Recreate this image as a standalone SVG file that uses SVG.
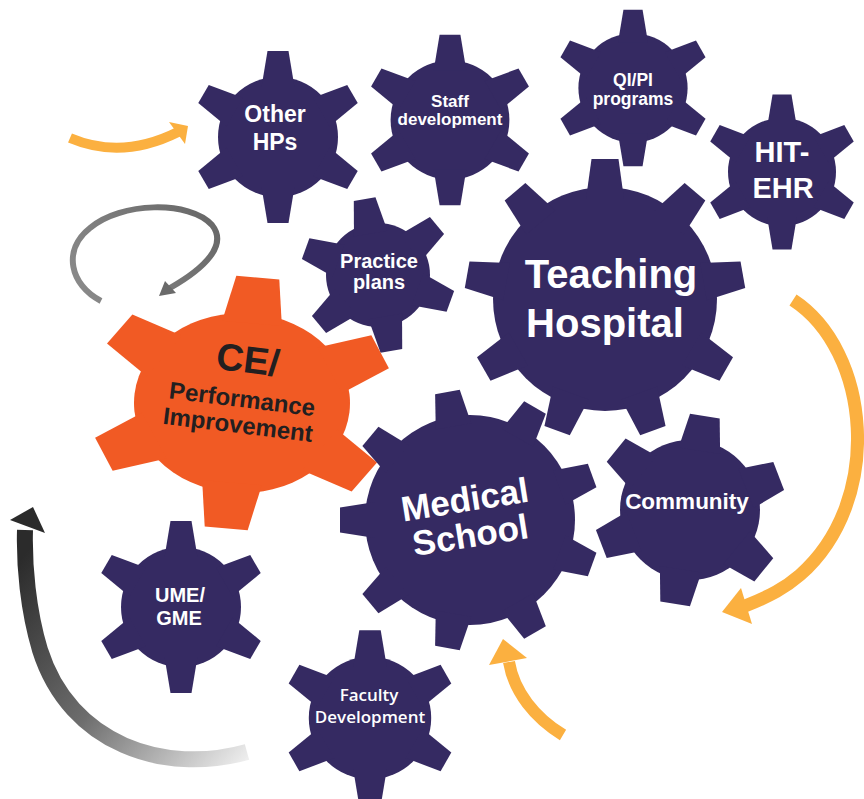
<svg xmlns="http://www.w3.org/2000/svg" xmlns:xlink="http://www.w3.org/1999/xlink" width="864" height="799" viewBox="0 0 864 799">
  <style>
    .gear { fill: #352a62; }
    .gear-ce { fill: #f15a24; }
    .lbl { fill: #ffffff; font-family: "Liberation Sans", Arial, sans-serif; font-weight: bold; text-anchor: middle; }
    .lbl-dark { fill: #231f20; font-family: "Liberation Sans", Arial, sans-serif; font-weight: bold; text-anchor: middle; }
    .lbl-soft { fill: #ffffff; font-family: "Open Sans", "Noto Sans", sans-serif; font-weight: 600; text-anchor: middle; }
    .amber { fill: none; stroke: #fbb040; }
    .amber-head { fill: #fbb040; }
  </style>
  <defs>
    <!-- small six-tooth gear: body r60, tips at r86 -->
    <polygon id="ts" points="-16.5,-50 -10.5,-86 10.5,-86 16.5,-50"/>
    <g id="g6">
      <circle r="60"/>
      <use href="#ts"/>
      <use href="#ts" transform="rotate(60)"/>
      <use href="#ts" transform="rotate(120)"/>
      <use href="#ts" transform="rotate(180)"/>
      <use href="#ts" transform="rotate(240)"/>
      <use href="#ts" transform="rotate(300)"/>
    </g>
    <polygon id="tc" points="-21,-60 -15,-95 15,-95 21,-60"/>
    <polygon id="tp" points="-17,-42 -11,-77 11,-77 17,-42"/>
    <polygon id="th" points="-19,-100 -13.5,-140 13.5,-140 19,-100"/>
    <polygon id="tm" points="-18,-95 -12.5,-130 12.5,-130 18,-95"/>
    <polygon id="te" points="-25,-80 -18,-126 18,-126 25,-80"/>
    <linearGradient id="fadeDark" gradientUnits="userSpaceOnUse" x1="20" y1="560" x2="250" y2="760">
      <stop offset="0" stop-color="#2b2b2b"/>
      <stop offset="0.5" stop-color="#6d6d6d"/>
      <stop offset="1" stop-color="#f0f0f0"/>
    </linearGradient>
    <linearGradient id="fadeGrey" gradientUnits="userSpaceOnUse" x1="80" y1="300" x2="220" y2="210">
      <stop offset="0" stop-color="#8a8a8a"/>
      <stop offset="1" stop-color="#666666"/>
    </linearGradient>
  </defs>

  <g id="connectors">
    <!-- amber arrow, top left -->
    <path class="amber" stroke-width="10" d="M70,138 Q122,160 178,132"/>
    <polygon class="amber-head" points="169,122 188,126 185,144"/>
    <!-- grey loop arrow -->
    <path fill="none" stroke="url(#fadeGrey)" stroke-width="6" d="M101,301 C70,285 62,250 90,228 C120,202 190,200 212,225 C228,245 205,268 170,288"/>
    <polygon fill="#6a6a6a" points="159,296 165,281 176,293"/>
    <!-- amber arrow sweeping down the right side -->
    <path class="amber" stroke-width="13" d="M793,300 C870,350 885,500 800,575 C785,588 770,596 745,606"/>
    <polygon class="amber-head" points="722,612 741,588 752,624"/>
    <!-- amber arrow, bottom -->
    <path class="amber" stroke-width="12" d="M563,735 C535,718 514,692 509,662"/>
    <polygon class="amber-head" points="503,639 489,665 527,658"/>
    <!-- fading dark arrow, lower left -->
    <path fill="none" stroke="url(#fadeDark)" stroke-width="16" d="M247,752 C165,775 70,745 40,650 C28,610 24,565 25,530"/>
    <polygon fill="#2b2b2b" points="10,520 33,507 45,533"/>
  </g>

  <g id="other-hps">
    <use href="#g6" class="gear" transform="translate(278,137)"/>
    <text class="lbl" font-size="23" x="275" y="122">Other</text>
    <text class="lbl" font-size="23" x="275" y="150">HPs</text>
  </g>

  <g id="staff-development">
    <use href="#g6" class="gear" transform="translate(450,120) scale(0.99)"/>
    <text class="lbl" font-size="17" x="450" y="107">Staff</text>
    <text class="lbl" font-size="17" x="450" y="125">development</text>
  </g>

  <g id="qi-pi-programs">
    <use href="#g6" class="gear" transform="translate(633,88) scale(0.91)"/>
    <text class="lbl" font-size="17.5" x="633" y="86">QI/PI</text>
    <text class="lbl" font-size="17.5" x="633" y="105">programs</text>
  </g>

  <g id="hit-ehr">
    <use href="#g6" class="gear" transform="translate(782,172) scale(0.9)"/>
    <text class="lbl" font-size="29" x="782" y="162">HIT-</text>
    <text class="lbl" font-size="29" x="783" y="198">EHR</text>
  </g>

  <g id="practice-plans">
    <g class="gear" transform="translate(378,275)">
      <circle r="52"/>
      <use href="#tp" transform="rotate(-10)"/>
      <use href="#tp" transform="rotate(50)"/>
      <use href="#tp" transform="rotate(110)"/>
      <use href="#tp" transform="rotate(170)"/>
      <use href="#tp" transform="rotate(230)"/>
      <use href="#tp" transform="rotate(290)"/>
    </g>
    <text class="lbl" font-size="20" x="379" y="268">Practice</text>
    <text class="lbl" font-size="20" x="379" y="289">plans</text>
  </g>

  <g id="teaching-hospital">
    <g class="gear" transform="translate(605,299)">
      <circle r="112"/>
      <use href="#th"/>
      <use href="#th" transform="rotate(40)"/>
      <use href="#th" transform="rotate(80)"/>
      <use href="#th" transform="rotate(120)"/>
      <use href="#th" transform="rotate(160)"/>
      <use href="#th" transform="rotate(200)"/>
      <use href="#th" transform="rotate(240)"/>
      <use href="#th" transform="rotate(280)"/>
      <use href="#th" transform="rotate(320)"/>
    </g>
    <text class="lbl" font-size="40" x="611" y="288">Teaching</text>
    <text class="lbl" font-size="40" x="605" y="337">Hospital</text>
  </g>

  <g id="ce-performance-improvement">
    <g class="gear-ce" transform="translate(242,403) scale(1.2,1) rotate(6)">
      <circle r="90"/>
      <use href="#te"/>
      <use href="#te" transform="rotate(60)"/>
      <use href="#te" transform="rotate(120)"/>
      <use href="#te" transform="rotate(180)"/>
      <use href="#te" transform="rotate(240)"/>
      <use href="#te" transform="rotate(300)"/>
    </g>
    <g transform="rotate(7,240,400)">
      <text class="lbl-dark" font-size="38" x="243" y="372">CE/</text>
      <text class="lbl-dark" font-size="24" x="242" y="407">Performance</text>
      <text class="lbl-dark" font-size="24" x="241" y="433">Improvement</text>
    </g>
  </g>

  <g id="medical-school">
    <g class="gear" transform="translate(470,520)">
      <circle r="105"/>
      <use href="#tm" transform="rotate(-10)"/>
      <use href="#tm" transform="rotate(30)"/>
      <use href="#tm" transform="rotate(70)"/>
      <use href="#tm" transform="rotate(110)"/>
      <use href="#tm" transform="rotate(150)"/>
      <use href="#tm" transform="rotate(190)"/>
      <use href="#tm" transform="rotate(230)"/>
      <use href="#tm" transform="rotate(270)"/>
      <use href="#tm" transform="rotate(310)"/>
    </g>
    <g transform="rotate(-9,470,520)">
      <text class="lbl" font-size="35" x="468" y="511">Medical</text>
      <text class="lbl" font-size="35" x="468" y="547">School</text>
    </g>
  </g>

  <g id="community">
    <g class="gear" transform="translate(690,510)">
      <circle r="70"/>
      <use href="#tc" transform="rotate(9)"/>
      <use href="#tc" transform="rotate(69)"/>
      <use href="#tc" transform="rotate(129)"/>
      <use href="#tc" transform="rotate(189)"/>
      <use href="#tc" transform="rotate(249)"/>
      <use href="#tc" transform="rotate(309)"/>
    </g>
    <text class="lbl" font-size="22.5" x="687" y="509">Community</text>
  </g>

  <g id="ume-gme">
    <use href="#g6" class="gear" transform="translate(181,607)"/>
    <text class="lbl" font-size="20" x="180" y="602">UME/</text>
    <text class="lbl" font-size="20" x="179" y="625">GME</text>
  </g>

  <g id="faculty-development">
    <use href="#g6" class="gear" transform="translate(370,718) scale(1.02)"/>
    <text class="lbl-soft" font-size="17" x="369" y="701">Faculty</text>
    <text class="lbl-soft" font-size="17" x="370" y="723">Development</text>
  </g>
</svg>
